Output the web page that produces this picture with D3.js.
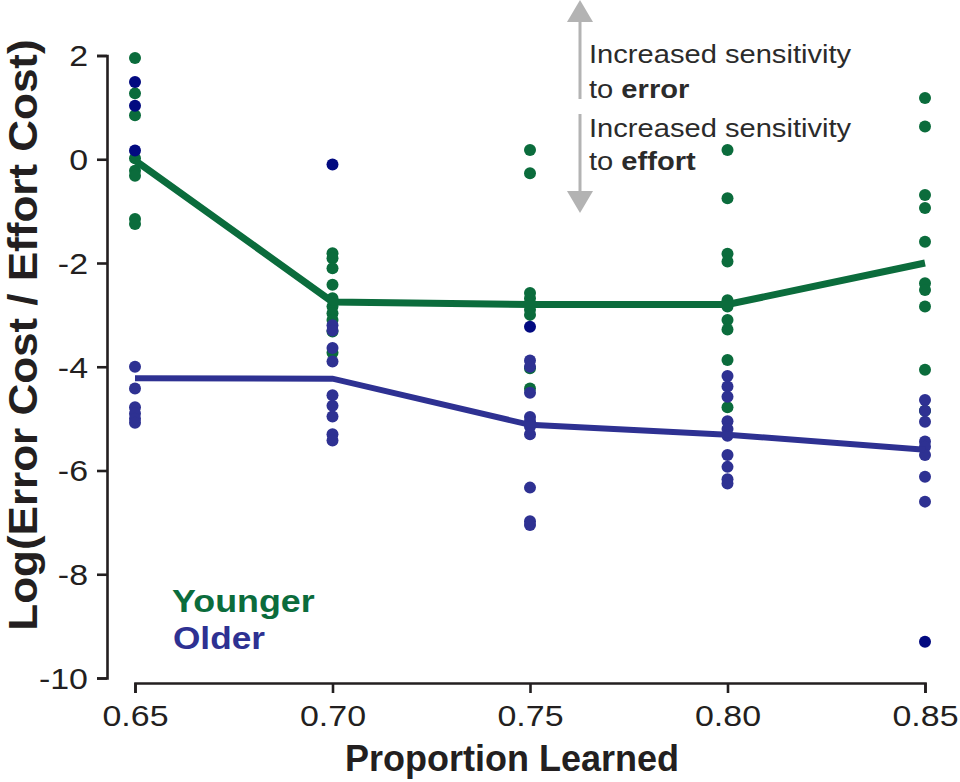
<!DOCTYPE html>
<html>
<head>
<meta charset="utf-8">
<script src="https://cdn.jsdelivr.net/npm/d3@7"></script>
<style>
  html, body { margin: 0; padding: 0; background: #fff; }
  svg { display: block; font-family: "Liberation Sans", Arial, Helvetica, sans-serif; }
</style>
</head>
<body>
<svg id="chart" width="960" height="782"></svg>
<script>
// Proportion-learned levels on the x axis
const proportions = [0.65, 0.70, 0.75, 0.80, 0.85];
const xTickLabels = ["0.65", "0.70", "0.75", "0.80", "0.85"];
const yTicks = [-10, -8, -6, -4, -2, 0, 2];
const yTickLabels = ["-10", "-8", "-6", "-4", "-2", "0", "2"];

// Individual participant estimates, log(error cost / effort cost)
const youngerPoints = [
  [1.95, 1.27, 0.85, 0.02, -0.22, -0.32, -1.15, -1.25],
  [-1.81, -1.91, -2.1, -2.42, -2.68, -2.84, -2.97, -3.1, -3.32, -3.73],
  [0.18, -0.27, -2.58, -2.68, -2.78, -2.9, -3.0, -4.03, -4.42],
  [0.18, -0.75, -1.82, -1.97, -2.72, -2.84, -3.1, -3.28, -3.87, -4.78],
  [1.18, 0.63, -0.69, -0.94, -1.59, -2.39, -2.52, -2.84, -4.06, -4.85]
];
const olderPoints = [
  [-4.0, -4.42, -4.78, -4.9, -5.0, -5.08],
  [-3.2, -3.3, -3.64, -3.9, -4.55, -4.75, -4.96, -5.3, -5.42],
  [-3.88, -4.0, -4.5, -4.97, -5.05, -5.15, -5.3, -6.33, -6.98, -7.05],
  [-4.18, -4.38, -4.58, -5.05, -5.2, -5.33, -5.7, -5.93, -6.17, -6.25],
  [-4.64, -4.85, -5.06, -5.44, -5.54, -5.7, -6.12, -6.6]
];
const olderOutliers = [
  [1.49, 1.03, 0.17],
  [-0.1],
  [-3.23],
  [],
  [-9.3]
];

// Group averages
const youngerMean = [-0.02, -2.75, -2.8, -2.8, -2.0];
const olderMean = [-4.22, -4.23, -5.12, -5.31, -5.6];

const GREEN = "#0b6c3c";
const BLUE = "#2e3192";
const NAVY = "#020a80";
const INK = "#231f20";
const STRETCH = 1.17;

const svg = d3.select("#chart");

const x = d3.scaleLinear().domain([0.65, 0.85]).range([135, 925]);
const y = d3.scaleLinear().domain([-10, 2]).range([678, 55.5]);

// Axes
const yAxis = svg.append("g")
  .attr("transform", "translate(107,0)")
  .call(d3.axisLeft(y).tickValues(yTicks).tickSize(10).tickSizeOuter(10)
    .tickFormat((d, i) => yTickLabels[i]));
const xAxis = svg.append("g")
  .attr("transform", "translate(0,683)")
  .call(d3.axisBottom(x).tickValues(proportions).tickSize(10).tickSizeOuter(10)
    .tickFormat((d, i) => xTickLabels[i]));

[yAxis, xAxis].forEach(g => {
  g.selectAll(".domain, .tick line").attr("stroke", INK).attr("stroke-width", 2.6);
  g.selectAll("text").attr("fill", INK).style("font-size", "29px").attr("font-family", null);
});
yAxis.selectAll("text")
  .attr("x", -19 / STRETCH)
  .attr("dy", "0.36em")
  .attr("transform", `scale(${STRETCH},1)`);
xAxis.selectAll("text")
  .attr("y", 0).attr("dy", 0)
  .attr("transform", `translate(0,43) scale(${STRETCH},1)`);

// Helper: text widened along its baseline
function label(parent, tx, ty, rot, sx, txt, opts) {
  const g = parent.append("g").attr("transform", `translate(${tx},${ty}) rotate(${rot}) scale(${sx},1)`);
  const t = g.append("text")
    .attr("text-anchor", opts.anchor || "start")
    .attr("fill", opts.fill || INK)
    .style("font-size", opts.size + "px")
    .style("font-weight", opts.weight || "normal");
  return t.text(txt);
}

// Axis titles
label(svg, 37, 335, -90, 1.1, "Log(Error Cost / Effort Cost)", { anchor: "middle", size: 40, weight: "bold" });
label(svg, 512, 771, 0, 1.0, "Proportion Learned", { anchor: "middle", size: 36, weight: "bold" });

// Individual points
function dots(cls, data, color) {
  const flat = [];
  data.forEach((vals, i) => vals.forEach(v => flat.push({ p: proportions[i], v })));
  svg.append("g").attr("class", cls).selectAll("circle")
    .data(flat).join("circle")
    .attr("cx", d => x(d.p))
    .attr("cy", d => y(d.v))
    .attr("r", 6)
    .attr("fill", color);
}
dots("younger", youngerPoints, GREEN);
dots("older", olderPoints, BLUE);
dots("older-outliers", olderOutliers, NAVY);

// Group mean lines
const line = d3.line().x((d, i) => x(proportions[i])).y(d => y(d));
svg.append("path").datum(youngerMean).attr("d", line)
  .attr("fill", "none").attr("stroke", GREEN).attr("stroke-width", 7);
svg.append("path").datum(olderMean).attr("d", line)
  .attr("fill", "none").attr("stroke", BLUE).attr("stroke-width", 6);

// Legend
label(svg, 172, 612, 0, 1.12, "Younger", { size: 32, weight: "bold", fill: GREEN });
label(svg, 173, 649, 0, 1.1, "Older", { size: 32, weight: "bold", fill: BLUE });

// Direction annotation: double arrow with captions
const ARROW = "#b3b3b3";
const ax = 580;
const ann = svg.append("g");
ann.append("line").attr("x1", ax).attr("x2", ax).attr("y1", 18).attr("y2", 99)
  .attr("stroke", ARROW).attr("stroke-width", 3);
ann.append("line").attr("x1", ax).attr("x2", ax).attr("y1", 114).attr("y2", 195)
  .attr("stroke", ARROW).attr("stroke-width", 3);
ann.append("path").attr("d", `M${ax},0 L${ax + 13},22 L${ax - 13},22 Z`).attr("fill", ARROW);
ann.append("path").attr("d", `M${ax},213 L${ax + 13},191 L${ax - 13},191 Z`).attr("fill", ARROW);

function caption(ty) {
  return label(svg, 589, ty, 0, 1.12, "", { size: 26, fill: "#2b2b2b" });
}
caption(63).text("Increased sensitivity");
const c2 = caption(98);
c2.append("tspan").text("to ");
c2.append("tspan").style("font-weight", "bold").text("error");
caption(137).text("Increased sensitivity");
const c4 = caption(170);
c4.append("tspan").text("to ");
c4.append("tspan").style("font-weight", "bold").text("effort");
</script>
</body>
</html>
